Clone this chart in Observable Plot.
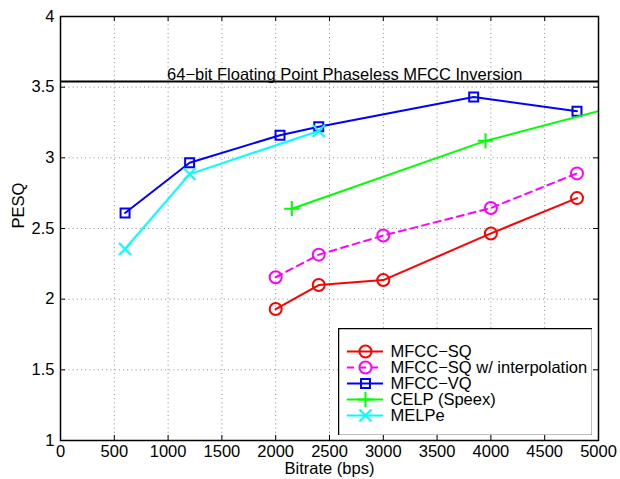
<!DOCTYPE html>
<html>
<head>
<meta charset="utf-8">
<script src="https://cdn.jsdelivr.net/npm/d3@7"></script>
<script src="https://cdn.jsdelivr.net/npm/@observablehq/plot@0.6"></script>
<style>
  html, body { margin: 0; padding: 0; background: #fff; }
  #chart { position: relative; width: 620px; height: 479px; }
  #legend { position: absolute; left: 338px; top: 328px; }
  svg { font-family: "Liberation Sans", Arial, Helvetica, sans-serif; }
</style>
</head>
<body>
<div id="chart"><div id="legend"></div></div>
<script>
// ---- data ----
const seriesNames = ["MFCC−SQ", "MFCC−SQ w/ interpolation", "MFCC−VQ", "CELP (Speex)", "MELPe"];
const seriesColors = ["#ff0000", "#ff00ff", "#0000ff", "#00ff00", "#00ffff"];
const seriesSymbols = ["circle", "circle", "square2", "plus", "times"];
const seriesDash = [null, "7,5", null, null, null];

const sqBitrate = [2000, 2400, 3000, 4000, 4800];
const sqPesq = [1.93, 2.10, 2.135, 2.465, 2.715];
const sqIntBitrate = [2000, 2400, 3000, 4000, 4800];
const sqIntPesq = [2.155, 2.315, 2.45, 2.645, 2.89];
const vqBitrate = [600, 1200, 2040, 2400, 3840, 4800];
const vqPesq = [2.61, 2.965, 3.16, 3.22, 3.43, 3.33];
const celpBitrate = [2150, 3950, 5950];
const celpPesq = [2.64, 3.12, 3.52];
const melpBitrate = [600, 1200, 2400];
const melpPesq = [2.355, 2.885, 3.19];

const referenceLevel = 3.54;
const referenceLabel = "64−bit Floating Point Phaseless MFCC Inversion";
const referenceLabelX = 990;

const xTicks = [0, 500, 1000, 1500, 2000, 2500, 3000, 3500, 4000, 4500, 5000];
const yTicks = [1, 1.5, 2, 2.5, 3, 3.5, 4];
const xLabel = "Bitrate (bps)";
const yLabel = "PESQ";

// ---- build table ----
const seriesX = [sqBitrate, sqIntBitrate, vqBitrate, celpBitrate, melpBitrate];
const seriesY = [sqPesq, sqIntPesq, vqPesq, celpPesq, melpPesq];
const rows = [];
seriesNames.forEach((name, i) => {
  seriesX[i].forEach((x, j) => rows.push({series: name, idx: i, x, y: seriesY[i][j]}));
});

const FS = 16.5;
const symbolR = {circle: 6, square2: 5.7, plus: 5, times: 5.5};
const xDomain = [0, 5000], yDomain = [1, 4];
const W = 620, H = 479, mL = 60, mR = 22, mT = 16, mB = 39;
const tickLenX = 5 / (W - mL - mR) * (xDomain[1] - xDomain[0]);
const tickLenY = 5 / (H - mT - mB) * (yDomain[1] - yDomain[0]);

const marks = [
  Plot.gridX(xTicks.slice(1, -1), {stroke: "#8a8a8a", strokeOpacity: 1, strokeDasharray: "1,3.2", strokeWidth: 1}),
  Plot.gridY(yTicks.slice(1, -1), {stroke: "#8a8a8a", strokeOpacity: 1, strokeDasharray: "1,3.2", strokeWidth: 1}),
  // inward ticks
  Plot.ruleX(xTicks, {y1: yDomain[0], y2: yDomain[0] + tickLenY, stroke: "#000"}),
  Plot.ruleX(xTicks, {y1: yDomain[1], y2: yDomain[1] - tickLenY, stroke: "#000"}),
  Plot.ruleY(yTicks, {x1: xDomain[0], x2: xDomain[0] + tickLenX, stroke: "#000"}),
  Plot.ruleY(yTicks, {x1: xDomain[1], x2: xDomain[1] - tickLenX, stroke: "#000"}),
  Plot.axisX(xTicks, {tickSize: 0, tickPadding: 5, fontSize: FS, tickFormat: d => String(d), label: null}),
  Plot.axisY(yTicks, {tickSize: 0, tickPadding: 6, fontSize: FS, tickFormat: d => String(d), label: null}),
  Plot.text([xLabel], {frameAnchor: "bottom", dy: 33, fontSize: FS, fill: "#000"}),
  Plot.text([yLabel], {frameAnchor: "left", dx: -42, rotate: -90, fontSize: FS, fill: "#000"}),
  // reference line
  Plot.ruleY([referenceLevel], {stroke: "#000", strokeWidth: 2}),
  Plot.text([referenceLabel], {x: referenceLabelX, y: referenceLevel, dy: -2, textAnchor: "start", lineAnchor: "bottom", fontSize: FS, fill: "#000"}),
];

seriesNames.forEach((name, i) => {
  const d = rows.filter(r => r.idx === i);
  marks.push(Plot.line(d, {x: "x", y: "y", stroke: seriesColors[i], strokeWidth: 2, strokeDasharray: seriesDash[i], clip: true}));
  const dots = d.filter(r => r.x <= xDomain[1]);
  marks.push(Plot.dot(dots, {x: "x", y: "y", symbol: () => seriesSymbols[i], r: symbolR[seriesSymbols[i]], fill: "none", stroke: seriesColors[i], strokeWidth: 2}));
});
marks.push(Plot.frame({stroke: "#000", strokeWidth: 1.5}));

const chart = Plot.plot({
  width: W, height: H,
  marginLeft: mL, marginRight: mR, marginTop: mT, marginBottom: mB,
  x: {domain: xDomain, axis: null},
  y: {domain: yDomain, axis: null},
  symbol: {type: "identity"},
  style: {fontFamily: "'Liberation Sans', Arial, Helvetica, sans-serif", color: "#000", background: "#fff", overflow: "visible"},
  marks
});
document.getElementById("chart").prepend(chart);

// ---- legend ----
const legendRows = seriesNames.map((name, i) => ({name, i}));
const legend = Plot.plot({
  width: 254, height: 107,
  margin: 0,
  x: {domain: [0, 254], axis: null},
  y: {type: "point", domain: seriesNames, range: [12.3, 97.2], axis: null},
  symbol: {type: "identity"},
  style: {fontFamily: "'Liberation Sans', Arial, Helvetica, sans-serif", color: "#000", background: "#fff"},
  marks: [
    ...legendRows.map(({name, i}) => Plot.ruleY([name], {y: d => d, x1: 9, x2: 45, stroke: seriesColors[i], strokeWidth: 2, strokeDasharray: seriesDash[i]})),
    ...legendRows.map(({name, i}) => Plot.dot([name], {y: d => d, x: 27, symbol: () => seriesSymbols[i],
      r: symbolR[seriesSymbols[i]], fill: "none", stroke: seriesColors[i], strokeWidth: 2})),
    Plot.text(legendRows, {y: "name", x: 52, text: "name", textAnchor: "start", fontSize: FS, fill: "#000"}),
    Plot.frame({stroke: "#000", strokeWidth: 1.5})
  ]
});
document.getElementById("legend").appendChild(legend);
</script>
</body>
</html>
